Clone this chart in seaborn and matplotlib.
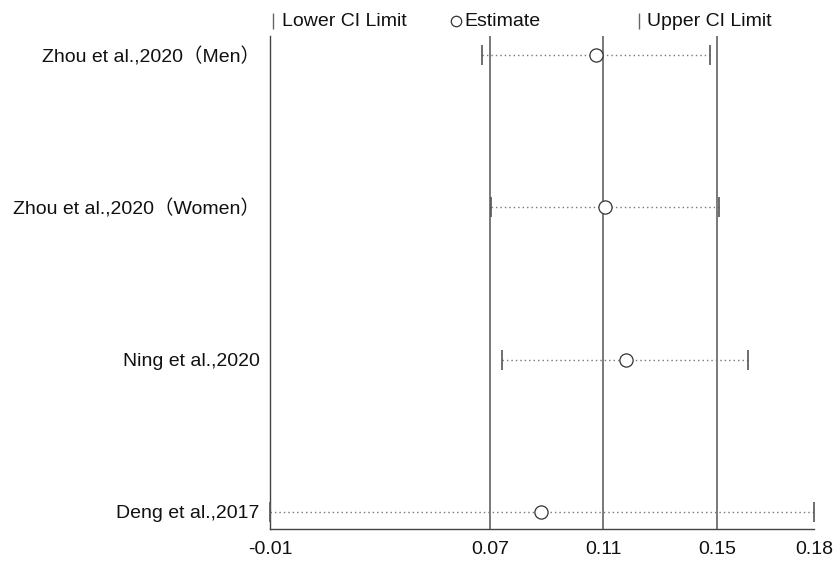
import matplotlib
matplotlib.use("Agg")
import matplotlib.pyplot as plt
import seaborn as sns
import pandas as pd

studies = ["Zhou et al.,2020（Men）", "Zhou et al.,2020（Women）", "Ning et al.,2020", "Deng et al.,2017"]
estimate = [0.1074, 0.1105, 0.1179, 0.0880]
lower_ci = [0.0672, 0.0703, 0.0742, -0.0075]
upper_ci = [0.1475, 0.1507, 0.1609, 0.1842]
tick_values = [-0.0075, 0.0700, 0.1100, 0.1500, 0.1842]
tick_labels = ["-0.01", "0.07", "0.11", "0.15", "0.18"]
overall_lines = [0.0700, 0.1100, 0.1500]
legend_labels = ["Lower CI Limit", "Estimate", "Upper CI Limit"]

df = pd.DataFrame({"study": studies, "est": estimate, "lo": lower_ci, "hi": upper_ci})
df["pos"] = range(len(df))

sns.set_style("white")
plt.rcParams["font.family"] = ["Liberation Sans", "Noto Sans CJK SC", "DejaVu Sans"]

W, H = 840, 561
fig = plt.figure(figsize=(8.4, 5.61), dpi=100)
ax = fig.add_axes([270/W, 1-529/H, (814-270)/W, (529-36)/H])

for v in overall_lines:
    ax.axvline(v, color="#555555", lw=1.1, zorder=1)

ax.hlines(df["pos"], df["lo"], df["hi"], color="#777777", lw=1.0, linestyles=(0, (1, 2.2)), zorder=2)
ax.plot(df["lo"], df["pos"], ls="none", marker="|", ms=14, mew=1.2, color="#555555", zorder=3, clip_on=False)
ax.plot(df["hi"], df["pos"], ls="none", marker="|", ms=14, mew=1.2, color="#555555", zorder=3, clip_on=False)
sns.scatterplot(data=df, x="est", y="pos", ax=ax, s=90, facecolor="white",
                edgecolor="#333333", linewidth=0.9, zorder=4, legend=False, clip_on=False)

ax.set_xlim(tick_values[0], tick_values[-1])
ax.set_ylim(3.112, -0.125)
ax.set_yticks(df["pos"])
ax.set_yticklabels(studies, fontsize=14, color="#111111")
ax.set_xticks(tick_values)
ax.set_xticklabels(tick_labels, fontsize=14, color="#111111")
ax.tick_params(axis="y", length=0, pad=7.5)
ax.tick_params(axis="x", direction="out", length=6.5, width=1.0, color="#444444", pad=2)
ax.set_xlabel("")
ax.set_ylabel("")
for s in ["top", "right"]:
    ax.spines[s].set_visible(False)
for s in ["left", "bottom"]:
    ax.spines[s].set_color("#444444")
    ax.spines[s].set_linewidth(1.0)

# legend at top (figure pixel coordinates converted to fractions)
ly = 1 - 21/H
ft = fig.transFigure
fig.add_artist(plt.Line2D([273/W], [ly], ls="none", marker="|", ms=11, mew=1.0, color="#666666", transform=ft))
fig.text(282/W, ly, legend_labels[0], fontsize=14, va="center", ha="left", color="#111111")
fig.add_artist(plt.Line2D([456/W], [ly], ls="none", marker="o", ms=7.5, mfc="white", mec="#333333", mew=0.9, transform=ft))
fig.text(464/W, ly, legend_labels[1], fontsize=14, va="center", ha="left", color="#111111")
fig.add_artist(plt.Line2D([639/W], [ly], ls="none", marker="|", ms=11, mew=1.0, color="#666666", transform=ft))
fig.text(647/W, ly, legend_labels[2], fontsize=14, va="center", ha="left", color="#111111")

fig.savefig("out.png", dpi=100)
